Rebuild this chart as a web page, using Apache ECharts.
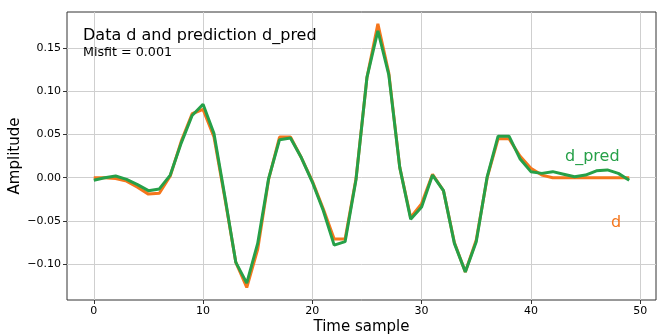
<!DOCTYPE html>
<html>
<head>
<meta charset="utf-8">
<script src="https://cdn.jsdelivr.net/npm/echarts@6/dist/echarts.min.js"></script>
<style>
  html, body { margin: 0; padding: 0; background: #fff; }
  #main { width: 658px; height: 336px; }
</style>
</head>
<body>
<div id="main"></div>
<script>
// time samples 0..49
var samples = [];
for (var i = 0; i < 50; i++) samples.push(i);

// observed data d
var dData = [
  0.000, 0.000, -0.001, -0.004, -0.011, -0.019, -0.018, 0.002, 0.042, 0.074,
  0.079, 0.047, -0.024, -0.098, -0.127, -0.083, -0.002, 0.047, 0.047, 0.023,
  -0.004, -0.036, -0.071, -0.071, -0.001, 0.116, 0.178, 0.121, 0.012, -0.046,
  -0.030, 0.004, -0.015, -0.075, -0.109, -0.072, 0.000, 0.045, 0.045, 0.025,
  0.011, 0.003, 0.000, 0.000, 0.000, 0.000, 0.000, 0.000, 0.000, 0.000
];

// predicted d_pred
var dPred = [
  -0.003, 0.000, 0.002, -0.002, -0.008, -0.015, -0.013, 0.003, 0.040, 0.072,
  0.085, 0.051, -0.022, -0.098, -0.122, -0.076, -0.001, 0.044, 0.046, 0.023,
  -0.005, -0.038, -0.078, -0.074, -0.002, 0.116, 0.170, 0.119, 0.012, -0.048,
  -0.034, 0.003, -0.015, -0.076, -0.109, -0.074, 0.001, 0.048, 0.048, 0.022,
  0.007, 0.005, 0.007, 0.004, 0.001, 0.003, 0.008, 0.009, 0.005, -0.003
];

var xTicks = [0, 10, 20, 30, 40, 50];
var yTicks = [-0.10, -0.05, 0.00, 0.05, 0.10, 0.15];

var orange = '#f5761c';
var green = '#26a048';
var font = 'DejaVu Sans';

function pairs(ys) {
  return samples.map(function (x, k) { return [x, ys[k]]; });
}

var chart = echarts.init(document.getElementById('main'));
chart.setOption({
  animation: false,
  backgroundColor: '#fff',
  textStyle: { fontFamily: font },
  grid: {
    left: 67, right: 2, top: 12, bottom: 36,
    outerBoundsMode: 'none', containLabel: false,
    show: true, borderColor: '#333', borderWidth: 1
  },
  xAxis: {
    type: 'value',
    min: -2.45, max: 51.45,
    name: 'Time sample',
    nameLocation: 'middle',
    nameGap: 20,
    nameMoveOverlap: false,
    nameTextStyle: { fontSize: 15, color: '#000', fontFamily: font },
    axisLine: { show: false, onZero: false },
    axisTick: { show: true, customValues: xTicks, length: 4, lineStyle: { color: '#333' } },
    axisLabel: { customValues: xTicks, fontSize: 11, color: '#000', margin: 6, fontFamily: font },
    splitLine: { show: true, lineStyle: { color: '#cfcfcf', width: 1 } }
  },
  yAxis: {
    type: 'value',
    min: -0.1415, max: 0.1917,
    name: 'Amplitude',
    nameLocation: 'middle',
    nameGap: 44,
    nameMoveOverlap: false,
    nameTextStyle: { fontSize: 15, color: '#000', fontFamily: font },
    axisLine: { show: false, onZero: false },
    axisTick: { show: true, customValues: yTicks, length: 4, lineStyle: { color: '#333' } },
    axisLabel: {
      customValues: yTicks, fontSize: 11, color: '#000', margin: 6, fontFamily: font,
      formatter: function (v) { return v.toFixed(2).replace('-', '\u2212'); }
    },
    splitLine: { show: true, lineStyle: { color: '#cfcfcf', width: 1 } }
  },
  graphic: [
    { type: 'text', left: 83, top: 28, z: 100, style: { text: 'Data d and prediction d_pred', font: '16px "DejaVu Sans"', fill: '#000' } },
    { type: 'text', left: 83, top: 46, z: 100, style: { text: 'Misfit = 0.001', font: '12.7px "DejaVu Sans"', fill: '#000' } },
    { type: 'text', left: 565, top: 149, z: 100, style: { text: 'd_pred', font: '16px "DejaVu Sans"', fill: green } },
    { type: 'text', left: 611, top: 215, z: 100, style: { text: 'd', font: '16px "DejaVu Sans"', fill: orange } }
  ],
  series: [
    {
      name: 'd', type: 'line', data: pairs(dData), showSymbol: false,
      lineStyle: { color: orange, width: 3 }, z: 2
    },
    {
      name: 'd_pred', type: 'line', data: pairs(dPred), showSymbol: false,
      lineStyle: { color: green, width: 3 }, z: 3
    }
  ]
});
</script>
</body>
</html>
